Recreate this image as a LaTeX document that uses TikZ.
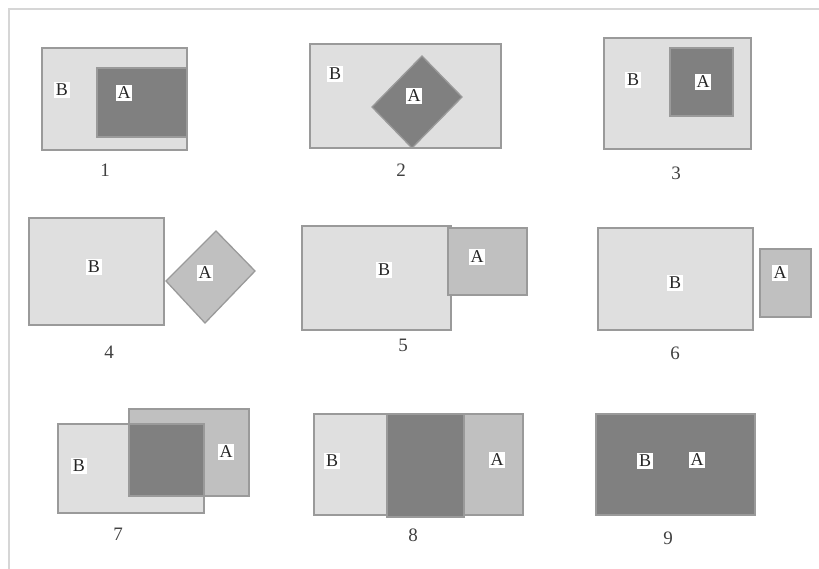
\documentclass[tikz,border=0pt]{standalone}
\usepackage{fontspec}
\setmainfont{Liberation Serif}
\definecolor{lite}{HTML}{DFDFDF}
\definecolor{mid}{HTML}{C0C0C0}
\definecolor{drk}{HTML}{808080}
\definecolor{edge}{HTML}{9A9A9A}
\definecolor{frm}{HTML}{D6D6D6}
\begin{document}
\begin{tikzpicture}[x=1pt,y=-1pt,
  shp/.style={draw=edge,line width=1.3pt},
  lt/.style={shp,fill=lite},
  md/.style={shp,fill=mid},
  dk/.style={shp,fill=drk},
  lab/.style={fill=white,inner sep=1.6pt,text=black!85,font=\fontsize{18}{18}\selectfont},
  num/.style={inner sep=0pt,font=\fontsize{19}{19}\selectfont,text=black!75}]
\useasboundingbox (0,0) rectangle (819,569);
% frame
\draw[frm,line width=2pt] (9,569) -- (9,9) -- (819,9);
% panel 1
\draw[lt] (42,48) rectangle (187,150);
\draw[dk] (97,68) rectangle (187,137);
\node[lab] (b1) at (62,90) {B};
\node[lab] (a1) at (124,93) {A};
\node[num] (n1) at (105,170) {1};
% panel 2
\draw[lt] (310,44) rectangle (501,148);
\draw[dk] (422,56) -- (462,97) -- (412,148) -- (372,107) -- cycle;
\node[lab] (b2) at (335,74) {B};
\node[lab] (a2) at (414,96) {A};
\node[num] (n2) at (401,170) {2};
% panel 3
\draw[lt] (604,38) rectangle (751,149);
\draw[dk] (670,48) rectangle (733,116);
\node[lab] (b3) at (633,80) {B};
\node[lab] (a3) at (703,82) {A};
\node[num] (n3) at (676,173) {3};
% panel 4
\draw[lt] (29,218) rectangle (164,325);
\draw[md] (216,231) -- (255,271) -- (205,323) -- (166,281) -- cycle;
\node[lab] (b4) at (94,267) {B};
\node[lab] (a4) at (205,273) {A};
\node[num] (n4) at (109,352) {4};
% panel 5
\draw[lt] (302,226) rectangle (451,330);
\draw[md] (448,228) rectangle (527,295);
\node[lab] (b5) at (384,270) {B};
\node[lab] (a5) at (477,257) {A};
\node[num] (n5) at (403,345) {5};
% panel 6
\draw[lt] (598,228) rectangle (753,330);
\draw[md] (760,249) rectangle (811,317);
\node[lab] (b6) at (675,283) {B};
\node[lab] (a6) at (780,273) {A};
\node[num] (n6) at (675,353) {6};
% panel 7
\draw[lt] (58,424) rectangle (204,513);
\draw[md] (129,409) rectangle (249,496);
\draw[dk] (129,424) rectangle (204,496);
\node[lab] (b7) at (79,466) {B};
\node[lab] (a7) at (226,452) {A};
\node[num] (n7) at (118,534) {7};
% panel 8
\draw[lt] (314,414) rectangle (390,515);
\draw[md] (460,414) rectangle (523,515);
\draw[dk] (387,414) rectangle (464,517);
\node[lab] (b8) at (332,461) {B};
\node[lab] (a8) at (497,460) {A};
\node[num] (n8) at (413,535) {8};
% panel 9
\draw[dk] (596,414) rectangle (755,515);
\node[lab] (b9) at (645,461) {B};
\node[lab] (a9) at (697,460) {A};
\node[num] (n9) at (668,538) {9};
\end{tikzpicture}
\end{document}
